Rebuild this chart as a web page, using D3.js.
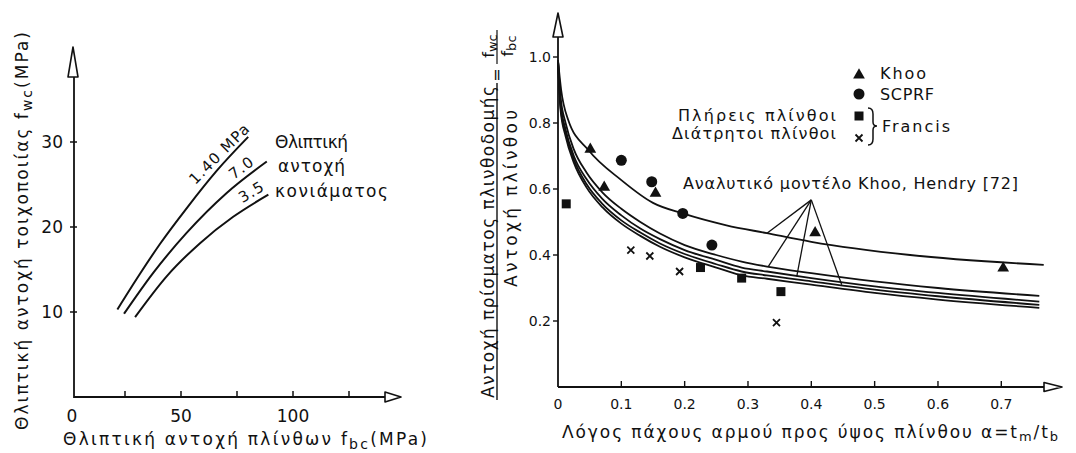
<!DOCTYPE html>
<html><head><meta charset="utf-8">
<script src="https://cdn.jsdelivr.net/npm/d3@7"></script>
<style>
body{margin:0;background:#fff}
text{font-family:"DejaVu Sans",sans-serif;fill:#111}
</style>
</head><body>
<svg id="c" width="1076" height="453"></svg>
<script>
// ---------- LEFT CHART DATA ----------
const leftXTickLabels = [0, 50, 100];
const leftXTickMarks = [25, 50, 75, 100, 125];
const leftYTicks = [10, 20, 30];
const mortar140 = [[21.6,10.3],[31.7,14.5],[40.6,18.0],[52.5,22.2],[65.9,26.6],[80.0,30.6]];
const mortar70  = [[24.6,9.8],[37.6,14.6],[52.5,19.3],[70.4,24.0],[88.3,27.7]];
const mortar35  = [[29.5,9.4],[43.6,14.2],[58.5,18.1],[73.3,21.2],[89.0,23.8]];
const mortarLabels = ["1.40 MPa", "7.0", "3.5"];

// ---------- RIGHT CHART DATA ----------
const rightXTicks = [0, 0.1, 0.2, 0.3, 0.4, 0.5, 0.6, 0.7];
const rightXTickLabels = ["0", "0.1", "0.2", "0.3", "0.4", "0.5", "0.6", "0.7"];
const rightYTicks = [0.2, 0.4, 0.6, 0.8, 1.0];
const rightYTickLabels = ["0.2", "0.4", "0.6", "0.8", "1.0"];
const khoo   = [[0.051,0.72],[0.073,0.605],[0.154,0.587],[0.406,0.467],[0.703,0.36]];
const scprf  = [[0.10,0.687],[0.148,0.622],[0.197,0.526],[0.243,0.43]];
const francisSolid = [[0.013,0.555],[0.225,0.362],[0.29,0.33],[0.352,0.289]];
const francisHollow = [[0.115,0.415],[0.145,0.397],[0.192,0.35],[0.345,0.195]];
const modelUpper = [[0,0.99],[0.005,0.9],[0.016,0.81],[0.048,0.718],[0.1,0.627],[0.15,0.558],[0.197,0.526],[0.266,0.49],[0.33,0.466],[0.4,0.44],[0.556,0.40],[0.767,0.37]];
const modelB1 = [[0,0.99],[0.004,0.88],[0.012,0.80],[0.025,0.72],[0.045,0.65],[0.07,0.59],[0.1,0.54],[0.13,0.50],[0.161,0.465],[0.2,0.43],[0.25,0.40],[0.29,0.38],[0.33,0.365],[0.4,0.345],[0.5,0.32],[0.6,0.30],[0.76,0.276]];
const modelB2 = [[0,0.99],[0.004,0.86],[0.012,0.78],[0.025,0.70],[0.045,0.63],[0.07,0.57],[0.1,0.52],[0.13,0.48],[0.161,0.448],[0.2,0.415],[0.25,0.385],[0.29,0.362],[0.33,0.35],[0.4,0.33],[0.5,0.305],[0.6,0.285],[0.76,0.259]];
const modelB3 = [[0,0.99],[0.004,0.85],[0.012,0.77],[0.025,0.69],[0.045,0.615],[0.07,0.555],[0.1,0.505],[0.13,0.468],[0.161,0.435],[0.2,0.403],[0.25,0.372],[0.29,0.35],[0.33,0.338],[0.4,0.32],[0.5,0.295],[0.6,0.275],[0.76,0.249]];
const modelB4 = [[0,0.99],[0.004,0.84],[0.012,0.76],[0.025,0.68],[0.045,0.605],[0.07,0.545],[0.1,0.495],[0.13,0.458],[0.161,0.425],[0.2,0.393],[0.25,0.362],[0.29,0.338],[0.33,0.328],[0.4,0.31],[0.5,0.285],[0.6,0.265],[0.76,0.24]];
const annotApex = [0.40, 0.567];
const annotEnds = [[0.33,0.466],[0.332,0.365],[0.377,0.335],[0.448,0.31]];
const legendNames = ["Khoo", "SCPRF", "Francis"];

const svg = d3.select("#c");
svg.append("rect").attr("width",1076).attr("height",453).attr("fill","#fff");

function arrowUp(g, x, tip, base, hw){
  g.append("path").attr("d",`M${x},${tip}L${x-hw},${base}L${x+hw},${base}Z`)
   .attr("fill","#fff").attr("stroke","#111").attr("stroke-width",1.6).attr("stroke-linejoin","round");
}
function arrowRight(g, y, tip, base, hh){
  g.append("path").attr("d",`M${tip},${y}L${base},${y-hh}L${base},${y+hh}Z`)
   .attr("fill","#fff").attr("stroke","#111").attr("stroke-width",1.6).attr("stroke-linejoin","round");
}
function fit(sel, len){ return sel.attr("textLength",len).attr("lengthAdjust","spacing"); }

// ================= LEFT =================
const L = svg.append("g");
const lx = d3.scaleLinear().domain([0,100]).range([69,293]);
const ly = d3.scaleLinear().domain([0,30]).range([397,142]);
const lAxisX = 74;
L.append("line").attr("x1",lAxisX).attr("x2",lAxisX).attr("y1",ly(0)+1).attr("y2",77).attr("stroke","#111").attr("stroke-width",1.8);
arrowUp(L, lAxisX-1, 47, 77, 5);
L.append("line").attr("x1",lAxisX).attr("x2",385).attr("y1",ly(0)).attr("y2",ly(0)).attr("stroke","#111").attr("stroke-width",1.8);
arrowRight(L, ly(0), 401, 385, 5);
L.selectAll(".ly").data(leftYTicks).join("line")
 .attr("x1",lAxisX-4).attr("x2",lAxisX+3).attr("y1",d=>ly(d)).attr("y2",d=>ly(d)).attr("stroke","#111").attr("stroke-width",1.5);
L.selectAll(".lyt").data(leftYTicks).join("text")
 .attr("x",lAxisX-11).attr("y",d=>ly(d)).attr("dy","0.35em").attr("text-anchor","end")
 .attr("font-size",17).text(d=>d);
L.selectAll(".lx").data(leftXTickMarks).join("line")
 .attr("x1",d=>lx(d)).attr("x2",d=>lx(d)).attr("y1",ly(0)).attr("y2",ly(0)-6).attr("stroke","#111").attr("stroke-width",1.5);
L.selectAll(".lxt").data(leftXTickLabels).join("text")
 .attr("x",d=>d===0?72:lx(d)).attr("y",416).attr("dy","0.35em").attr("text-anchor","middle")
 .attr("font-size",17).text(d=>d);
const lline = d3.line().x(d=>lx(d[0])).y(d=>ly(d[1])).curve(d3.curveMonotoneX);
[mortar140, mortar70, mortar35].forEach(s=>{
  L.append("path").attr("d",lline(s)).attr("fill","none").attr("stroke","#111").attr("stroke-width",2);
});
const labPos = [[219,154,-45],[241,168,-37],[251,192,-31]];
const labLen = [78, 26, 26];
mortarLabels.forEach((t,i)=>{
  fit(L.append("text").attr("transform",`translate(${labPos[i][0]-labLen[i]/2*Math.cos(labPos[i][2]*Math.PI/180)},${labPos[i][1]-labLen[i]/2*Math.sin(labPos[i][2]*Math.PI/180)}) rotate(${labPos[i][2]})`)
   .attr("dy","0.35em").attr("font-size",15).text(t), labLen[i]);
});
fit(L.append("text").attr("x",275).attr("y",142).attr("dy","0.35em").attr("font-size",17).text("Θλιπτική"),73);
fit(L.append("text").attr("x",278).attr("y",166).attr("dy","0.35em").attr("font-size",17).text("αντοχή"),67);
fit(L.append("text").attr("x",275).attr("y",191).attr("dy","0.35em").attr("font-size",17).text("κονιάματος"),113);
const lxt = L.append("text").attr("x",63).attr("y",439).attr("dy","0.35em").attr("font-size",17);
lxt.append("tspan").text("Θλιπτική αντοχή πλίνθων f");
lxt.append("tspan").attr("font-size",14).attr("dy",4).text("bc");
lxt.append("tspan").attr("dy",-4).text("(MPa)");
fit(lxt, 364);
const lyt = L.append("text").attr("transform","translate(22,430) rotate(-90)").attr("dy","0.35em").attr("font-size",17);
lyt.append("tspan").text("Θλιπτική αντοχή τοιχοποιίας f");
lyt.append("tspan").attr("font-size",14).attr("dy",4).text("wc");
lyt.append("tspan").attr("dy",-4).text("(MPa)");
fit(lyt, 398);

// ================= RIGHT =================
const R = svg.append("g");
const rx = d3.scaleLinear().domain([0,0.7]).range([558,1001.3]);
const ry = d3.scaleLinear().domain([0,1]).range([387,57]);
R.append("line").attr("x1",rx(0)).attr("x2",rx(0)).attr("y1",ry(0)).attr("y2",37).attr("stroke","#111").attr("stroke-width",1.8);
arrowUp(R, rx(0), 13, 37, 5);
R.append("line").attr("x1",rx(0)).attr("x2",1044).attr("y1",ry(0)).attr("y2",ry(0)).attr("stroke","#111").attr("stroke-width",1.8);
arrowRight(R, ry(0), 1062, 1044, 4.5);
R.selectAll(".ryk").data(rightYTicks).join("line")
 .attr("x1",rx(0)-5).attr("x2",rx(0)).attr("y1",d=>ry(d)).attr("y2",d=>ry(d)).attr("stroke","#111").attr("stroke-width",1.4);
R.selectAll(".ryt").data(rightYTicks).join("text")
 .attr("x",551).attr("y",d=>ry(d)).attr("dy","0.35em").attr("text-anchor","end").attr("font-size",14)
 .text((d,i)=>rightYTickLabels[i]);
R.selectAll(".rxk").data(rightXTicks.slice(1)).join("line")
 .attr("x1",d=>rx(d)).attr("x2",d=>rx(d)).attr("y1",ry(0)).attr("y2",ry(0)-6).attr("stroke","#111").attr("stroke-width",1.4);
R.selectAll(".rxt").data(rightXTicks).join("text")
 .attr("x",d=>rx(d)).attr("y",404).attr("dy","0.35em").attr("text-anchor","middle").attr("font-size",14)
 .text((d,i)=>rightXTickLabels[i]);
const rxt = R.append("text").attr("x",562).attr("y",432).attr("dy","0.35em").attr("font-size",17);
rxt.append("tspan").text("Λόγος πάχους αρμού προς ύψος πλίνθου α=t");
rxt.append("tspan").attr("font-size",13).attr("dy",3).text("m");
rxt.append("tspan").attr("dy",-3).text("/t");
rxt.append("tspan").attr("font-size",13).attr("dy",3).text("b");
fit(rxt, 496);
fit(R.append("text").attr("transform","translate(488,398) rotate(-90)").attr("dy","0.35em")
 .attr("font-size",17).text("Αντοχή πρίσματος πλινθοδομής"), 312);
R.append("line").attr("x1",497).attr("x2",497).attr("y1",400).attr("y2",83).attr("stroke","#111").attr("stroke-width",1.4);
fit(R.append("text").attr("transform","translate(511,287) rotate(-90)").attr("dy","0.35em")
 .attr("font-size",17).text("Αντοχή πλίνθου"), 177);
R.append("text").attr("transform","translate(496,75) rotate(-90)").attr("text-anchor","middle").attr("dy","0.35em")
 .attr("font-size",16).text("=");
const fw = R.append("text").attr("transform","translate(488,46) rotate(-90)").attr("text-anchor","middle").attr("dy","0.35em").attr("font-size",16);
fw.append("tspan").text("f"); fw.append("tspan").attr("font-size",13).attr("dy",3).text("wc");
R.append("line").attr("x1",497).attr("x2",497).attr("y1",64).attr("y2",30).attr("stroke","#111").attr("stroke-width",1.2);
const fb = R.append("text").attr("transform","translate(507,46) rotate(-90)").attr("text-anchor","middle").attr("dy","0.35em").attr("font-size",16);
fb.append("tspan").text("f"); fb.append("tspan").attr("font-size",13).attr("dy",3).text("bc");

const rline = d3.line().x(d=>rx(d[0])).y(d=>ry(d[1])).curve(d3.curveMonotoneX);
[modelUpper, modelB1, modelB2, modelB3, modelB4].forEach(s=>{
  R.append("path").attr("d",rline(s)).attr("fill","none").attr("stroke","#111").attr("stroke-width",1.8);
});
annotEnds.forEach(e=>{
  R.append("line").attr("x1",rx(annotApex[0])).attr("y1",ry(annotApex[1])).attr("x2",rx(e[0])).attr("y2",ry(e[1]))
   .attr("stroke","#111").attr("stroke-width",1.3);
});
fit(R.append("text").attr("x",683).attr("y",183).attr("dy","0.35em").attr("font-size",16)
 .text("Αναλυτικό μοντέλο Khoo, Hendry [72]"), 335);

const tri = d3.symbol(d3.symbolTriangle, 60);
function drawTri(g,x,y){ g.append("path").attr("d",tri()).attr("transform",`translate(${x},${y})`).attr("fill","#111"); }
function drawCirc(g,x,y){ g.append("circle").attr("cx",x).attr("cy",y).attr("r",5.5).attr("fill","#111"); }
function drawSq(g,x,y){ g.append("rect").attr("x",x-4.5).attr("y",y-4.5).attr("width",9).attr("height",9).attr("fill","#111"); }
function drawX(g,x,y){ g.append("path").attr("d",`M${x-3.5},${y-3.5}L${x+3.5},${y+3.5}M${x+3.5},${y-3.5}L${x-3.5},${y+3.5}`).attr("stroke","#111").attr("stroke-width",1.8); }
khoo.forEach(d=>drawTri(R,rx(d[0]),ry(d[1])));
scprf.forEach(d=>drawCirc(R,rx(d[0]),ry(d[1])));
francisSolid.forEach(d=>drawSq(R,rx(d[0]),ry(d[1])));
francisHollow.forEach(d=>drawX(R,rx(d[0]),ry(d[1])));

drawTri(R,859,75); drawCirc(R,859,94); drawSq(R,859,116); drawX(R,859,138);
fit(R.append("text").attr("x",880).attr("y",73).attr("dy","0.35em").attr("font-size",16).text(legendNames[0]),46);
fit(R.append("text").attr("x",880).attr("y",94).attr("dy","0.35em").attr("font-size",16).text(legendNames[1]),54);
fit(R.append("text").attr("x",882).attr("y",126).attr("dy","0.35em").attr("font-size",16).text(legendNames[2]),68);
R.append("path").attr("d","M868,108 Q873,108 873,114 L873,122 Q873,126 877,126 Q873,126 873,130 L873,139 Q873,145 868,145")
 .attr("fill","none").attr("stroke","#111").attr("stroke-width",1.5);
fit(R.append("text").attr("x",678).attr("y",115).attr("dy","0.35em").attr("font-size",16).text("Πλήρεις  πλίνθοι"),158);
fit(R.append("text").attr("x",672).attr("y",133).attr("dy","0.35em").attr("font-size",16).text("Διάτρητοι  πλίνθοι"),164);
</script>
</body></html>
